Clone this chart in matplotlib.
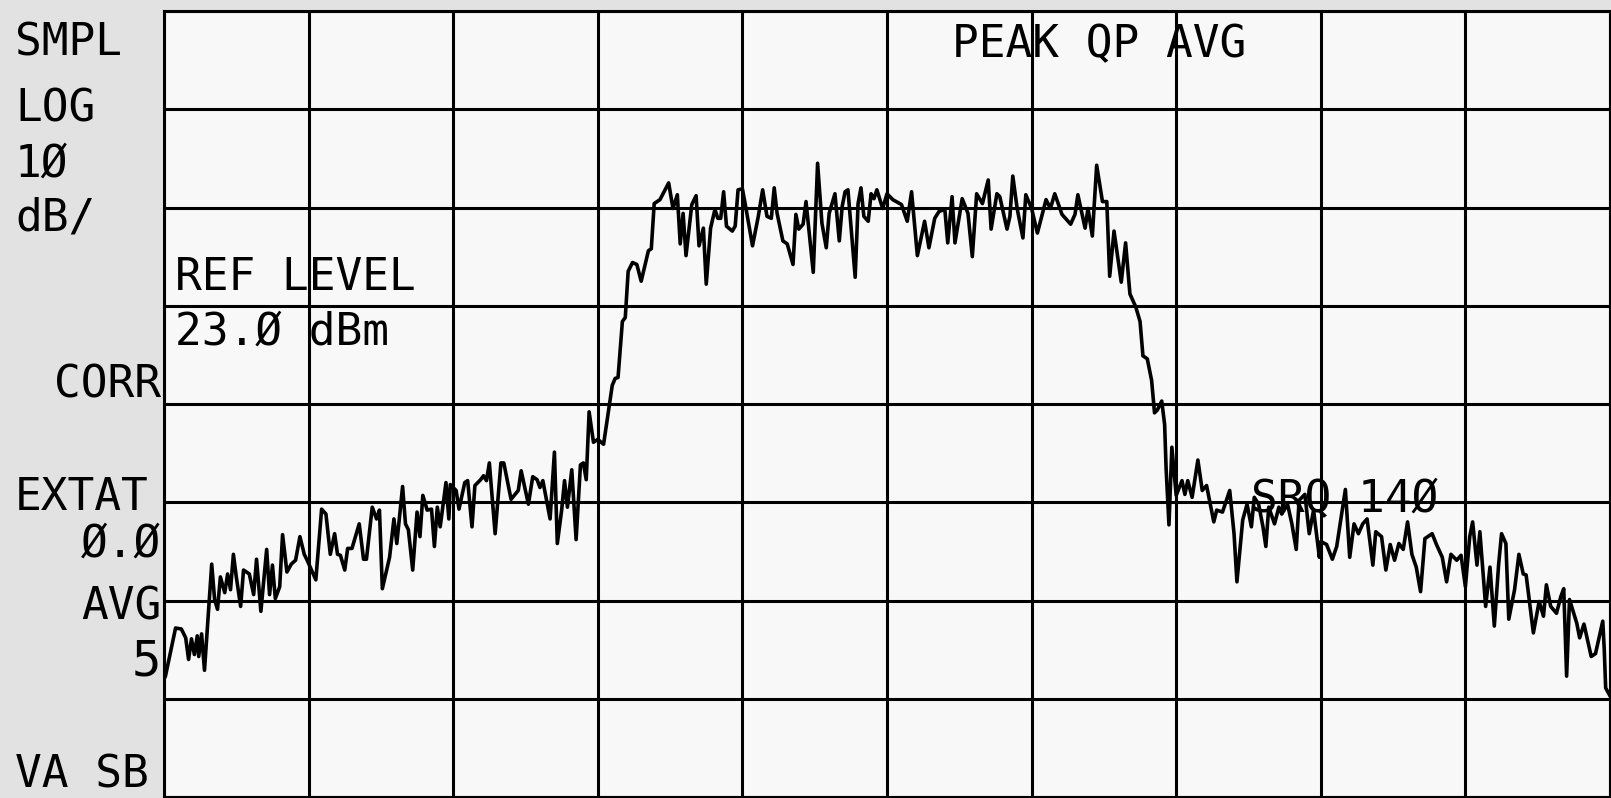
import numpy as np
import matplotlib.pyplot as plt

# spectrum analyzer screen: 10 dB/div, ref level 23 dBm, 10 x 8 divisions
ref_level = 23.0
db_per_div = 10.0

# trace, x in screen divisions (0..10), level in dBm
skirt_lo_x = [
    0.00, 0.01, 0.08, 0.12, 0.15, 0.17, 0.19, 0.21, 0.23, 0.24,
    0.26, 0.28, 0.30, 0.33, 0.35, 0.37, 0.39, 0.42, 0.44, 0.46,
    0.48, 0.50, 0.53, 0.55, 0.59, 0.62, 0.64, 0.67, 0.71, 0.73,
    0.75, 0.77, 0.80, 0.82, 0.85, 0.88, 0.91, 0.94, 0.97, 0.99,
    1.02, 1.05, 1.09, 1.12, 1.15, 1.18, 1.20, 1.22, 1.25, 1.27,
    1.30, 1.35, 1.38, 1.40, 1.44, 1.47, 1.49, 1.51, 1.56, 1.59,
    1.61, 1.65, 1.67, 1.69, 1.72, 1.75, 1.77, 1.79, 1.82, 1.85,
    1.87, 1.89, 1.91, 1.95, 1.97, 1.98, 2.02]
skirt_lo_db = [
    -45.0, -44.7, -39.8, -39.9, -40.8, -43.0, -40.9, -42.5, -40.6, -42.7,
    -40.4, -44.1, -39.8, -33.3, -36.9, -37.9, -34.6, -36.2, -34.3, -35.9,
    -32.3, -34.6, -37.6, -33.9, -34.3, -36.4, -32.8, -38.1, -31.8, -36.4,
    -33.4, -36.8, -35.6, -30.3, -34.1, -33.3, -32.9, -30.5, -32.3, -32.9,
    -33.9, -34.9, -27.7, -28.2, -32.3, -30.2, -32.3, -32.4, -33.9, -31.7,
    -31.7, -29.2, -32.8, -32.8, -27.5, -28.7, -27.8, -35.8, -32.6, -28.7,
    -31.2, -25.4, -29.2, -29.8, -33.9, -28.0, -30.5, -26.3, -27.8, -27.7,
    -31.5, -27.5, -29.5, -25.0, -28.7, -25.2, -25.8]

rise_x = [
    2.04, 2.08, 2.10, 2.13, 2.15, 2.19, 2.21, 2.23, 2.25, 2.29,
    2.33, 2.35, 2.40, 2.45, 2.47, 2.52, 2.55, 2.58, 2.60, 2.62,
    2.67, 2.70, 2.72, 2.75, 2.77, 2.79, 2.82, 2.85, 2.88, 2.90,
    2.92, 2.94, 2.97, 3.00, 3.04, 3.10, 3.12, 3.14, 3.17, 3.19,
    3.21, 3.24, 3.27, 3.30, 3.35, 3.37, 3.39, 3.43, 3.49, 3.52,
    3.55, 3.57, 3.59, 3.61, 3.65, 3.68, 3.70, 3.73, 3.75, 3.78,
    3.81, 3.83, 3.85, 3.87, 3.89, 3.93, 3.95, 3.97, 4.00]
rise_db = [
    -27.7, -25.0, -24.8, -29.5, -25.3, -24.7, -24.3, -24.8, -23.0, -30.2,
    -23.0, -23.0, -26.7, -25.8, -23.8, -27.2, -24.4, -24.7, -25.5, -24.8,
    -28.7, -21.9, -31.2, -27.8, -24.8, -27.5, -23.7, -30.8, -23.2, -23.0,
    -24.7, -17.8, -20.9, -20.6, -21.1, -15.1, -14.4, -14.3, -8.6, -8.2,
    -3.5, -2.6, -2.8, -4.5, -1.4, -1.2, 3.4, 3.8, 5.5, 2.9,
    4.3, -0.7, 2.4, -1.9, 3.3, 4.2, -0.9, 0.9, -4.8, 0.9,
    2.8, 1.9, 1.9, 4.6, 1.1, 0.6, 1.1, 4.8, 4.9]

top_x = [
    4.02, 4.07, 4.11, 4.14, 4.17, 4.20, 4.22, 4.24, 4.28, 4.31,
    4.35, 4.37, 4.39, 4.42, 4.44, 4.49, 4.52, 4.55, 4.58, 4.60,
    4.64, 4.67, 4.69, 4.71, 4.73, 4.78, 4.80, 4.82, 4.84, 4.87,
    4.89, 4.91, 4.93, 4.97, 5.00, 5.04, 5.10, 5.14, 5.17, 5.21,
    5.26, 5.29, 5.33, 5.36, 5.40, 5.42, 5.45, 5.47, 5.52, 5.56,
    5.59, 5.62, 5.66, 5.70, 5.72, 5.76, 5.78, 5.83, 5.85, 5.87,
    5.90, 5.94, 5.96]
top_db = [
    3.3, -0.9, 2.1, 4.8, 2.1, 1.9, 5.0, 2.4, -0.4, -0.7,
    -2.8, 2.3, 0.8, 1.3, 3.6, -3.6, 7.5, 1.4, -1.1, 2.4,
    4.4, -0.4, 3.1, 4.6, 4.8, -4.1, 3.4, 5.0, 2.1, 1.6,
    4.4, 3.9, 4.8, 2.9, 4.4, 3.8, 3.3, 1.6, 4.6, -1.9,
    1.6, -1.1, 1.9, 2.6, 2.8, -0.6, 4.1, -0.6, 3.9, 2.4,
    -2.0, 4.4, 3.4, 5.8, 0.8, 4.4, 4.1, 0.8, 2.1, 6.2,
    2.9, -0.1, 4.3]

fall_x = [
    6.00, 6.04, 6.10, 6.13, 6.16, 6.21, 6.27, 6.30, 6.32, 6.37,
    6.39, 6.42, 6.45, 6.49, 6.52, 6.54, 6.57, 6.62, 6.65, 6.68,
    6.72, 6.75, 6.77, 6.80, 6.83, 6.85, 6.87, 6.90, 6.92, 6.93,
    6.95, 6.97, 7.00, 7.04, 7.06, 7.08, 7.11, 7.15, 7.18, 7.21,
    7.26, 7.28, 7.32, 7.37, 7.40, 7.42, 7.46, 7.49, 7.52, 7.54,
    7.57, 7.60, 7.62, 7.64, 7.68, 7.71, 7.73, 7.77, 7.80, 7.83,
    7.85, 7.89, 7.92, 7.95, 7.99]
fall_db = [
    2.9, 0.4, 3.8, 2.9, 4.4, 2.3, 1.3, 2.3, 4.3, 0.9,
    2.9, 0.1, 7.3, 3.6, 3.6, -4.0, 0.6, -4.6, -0.6, -5.8,
    -7.1, -8.6, -12.1, -12.4, -14.6, -17.9, -17.6, -16.7, -19.1, -23.5,
    -29.3, -21.4, -26.3, -24.8, -26.2, -24.8, -26.5, -22.7, -25.8, -25.3,
    -29.0, -27.8, -28.0, -25.8, -30.2, -35.1, -28.8, -27.2, -29.5, -26.5,
    -27.2, -29.5, -31.5, -27.5, -29.2, -27.5, -28.2, -27.2, -29.2, -31.8,
    -26.8, -26.2, -30.2, -27.8, -32.6]

skirt_hi_x = [
    8.00, 8.04, 8.08, 8.11, 8.17, 8.20, 8.23, 8.26, 8.29, 8.32,
    8.36, 8.38, 8.42, 8.45, 8.48, 8.51, 8.54, 8.57, 8.60, 8.63,
    8.66, 8.69, 8.72, 8.77, 8.80, 8.84, 8.87, 8.90, 8.94, 8.97,
    9.00, 9.03, 9.05, 9.08, 9.10, 9.14, 9.17, 9.20, 9.23, 9.25,
    9.28, 9.30, 9.34, 9.37, 9.40, 9.42, 9.47, 9.51, 9.54, 9.56,
    9.59, 9.63, 9.66, 9.68, 9.70, 9.72, 9.77, 9.79, 9.82, 9.87,
    9.90, 9.95, 9.96, 9.97, 10.00]
skirt_hi_db = [
    -31.0, -31.3, -32.8, -31.5, -25.7, -32.6, -29.2, -30.2, -29.2, -28.7,
    -33.4, -30.0, -30.5, -33.9, -31.3, -32.9, -31.2, -31.8, -29.0, -32.3,
    -33.6, -36.1, -30.7, -30.2, -31.3, -32.6, -35.1, -32.3, -32.9, -32.4,
    -35.6, -30.5, -29.0, -33.4, -30.0, -37.6, -33.6, -39.6, -33.3, -30.2,
    -31.2, -38.9, -35.9, -32.3, -34.3, -34.4, -40.3, -37.1, -38.6, -35.4,
    -37.6, -38.3, -36.6, -35.8, -44.7, -36.9, -39.3, -40.8, -39.4, -42.7,
    -42.4, -39.1, -41.9, -45.9, -46.7]

# screen annotations: (text, baseline y px) and (text, x px, baseline y px, alignment)
margin_left = [("SMPL", 55), ("LOG", 122), ("1Ø", 177), ("dB/", 231),
               ("EXTAT", 510), ("VA SB", 787)]
margin_right = [("CORR", 398), ("Ø.Ø", 557), ("AVG", 620), ("5", 676)]
screen_texts = [("PEAK QP AVG", 1099, 57, "center"),
                ("REF LEVEL", 175, 290, "left"),
                ("23.Ø dBm", 175, 345, "left"),
                ("SRQ 14Ø", 1345, 512, "center")]

freq_div = np.concatenate([skirt_lo_x, rise_x, top_x, fall_x, skirt_hi_x])
level_dbm = np.concatenate([skirt_lo_db, rise_db, top_db, fall_db, skirt_hi_db])
assert len(freq_div) == len(level_dbm)

plt.rcParams['font.family'] = ['DejaVu Sans Mono', 'DejaVu Sans']

W, H = 1611, 798
fig = plt.figure(figsize=(W / 100, H / 100), dpi=100, facecolor='#e2e2e2')
ax = fig.add_axes([164 / W, 1 / H, (1610 - 164) / W, 786 / H])
ax.set_facecolor('#f8f8f8')

bottom = ref_level - 8 * db_per_div
ax.set_xlim(0, 10)
ax.set_ylim(bottom, ref_level)
ax.set_xticks(np.arange(0, 11))
ax.set_yticks(np.arange(bottom, ref_level + 1, db_per_div))
ax.tick_params(length=0, labelbottom=False, labelleft=False)
ax.set_axisbelow(True)
ax.grid(True, color='black', linewidth=2.2)
for s in ax.spines.values():
    s.set_linewidth(2.2)

ax.plot(freq_div, level_dbm, color='black', linewidth=2.6)

fs = 32
for label, y in margin_left:
    fig.text(15 / W, 1 - y / H, label, fontsize=fs, ha='left', va='baseline')
for label, y in margin_right:
    size = fs * 1.1 if label == "5" else fs
    fig.text(161 / W, 1 - y / H, label, fontsize=size, ha='right', va='baseline')
for label, x, y, align in screen_texts:
    fig.text(x / W, 1 - y / H, label, fontsize=fs, ha=align, va='baseline')

fig.savefig("out.png", dpi=100, facecolor=fig.get_facecolor())
